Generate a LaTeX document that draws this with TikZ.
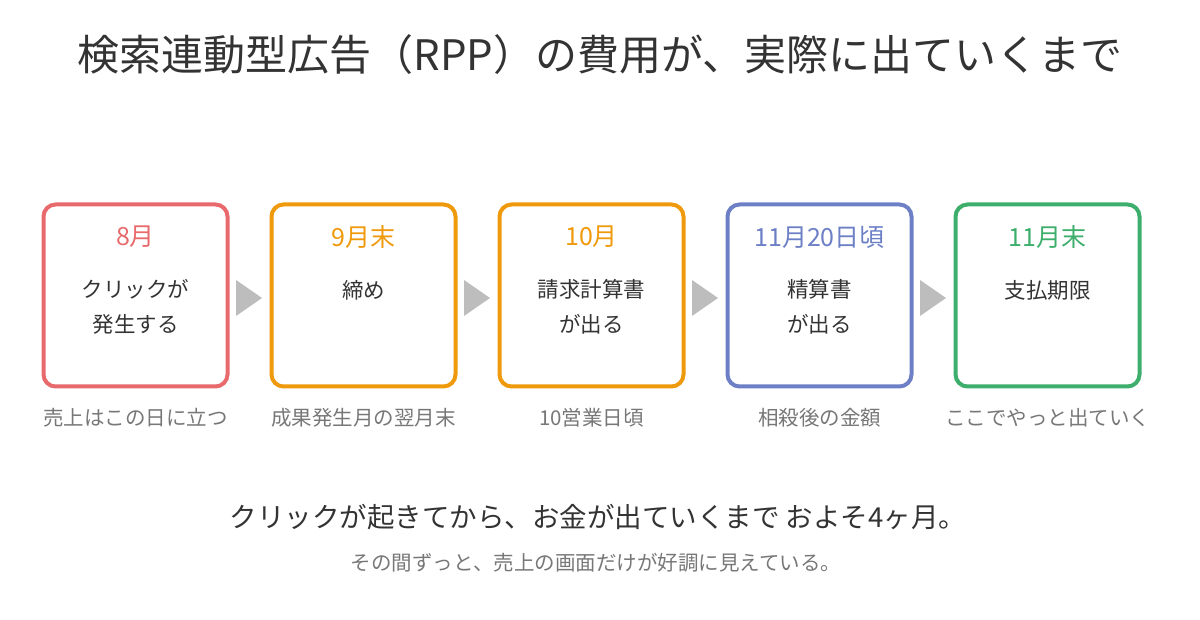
\documentclass[tikz,border=0pt]{standalone}
\usetikzlibrary{calc}
\usepackage{fontspec}
\setmainfont{Noto Sans CJK JP}
\definecolor{cr}{HTML}{E86A6C}
\definecolor{co}{HTML}{EF9A0C}
\definecolor{cb}{HTML}{6D80C6}
\definecolor{cg}{HTML}{3DAE6B}
\definecolor{tx}{HTML}{333333}
\definecolor{gy}{HTML}{777777}
\definecolor{ar}{HTML}{BDBDBD}
\begin{document}
\begin{tikzpicture}[x=1pt,y=-1pt,
 box/.style={draw=#1,line width=4pt,rounded corners=12pt,minimum width=184pt,minimum height=182pt},
 date/.style={text=#1,font=\fontsize{25}{28}\selectfont},
 body/.style={text=tx,font=\fontsize{21.5}{35}\selectfont,align=center},
 sub/.style={text=gy,font=\fontsize{20.5}{24}\selectfont},
 tri/.style={fill=ar}]
\useasboundingbox (0,0) rectangle (1200,620);
\node[text=tx,font=\fontsize{42}{46}\selectfont] (title) at (600,55) {検索連動型広告（RPP）の費用が、実際に出ていくまで};
\foreach \i/\c/\d/\b/\s in {0/cr/8月/{クリックが\\発生する}/売上はこの日に立つ,
 1/co/9月末/{締め\\\phantom{x}}/成果発生月の翌月末,
 2/co/10月/{請求計算書\\が出る}/10営業日頃,
 3/cb/11月20日頃/{精算書\\が出る}/相殺後の金額,
 4/cg/11月末/{支払期限\\\phantom{x}}/ここでやっと出ていく}{
 \node[box=\c] (b\i) at (135.5+228*\i,295.5) {};
 \node[date=\c] (d\i) at (135.5+228*\i,237) {\d};
 \node[body] (t\i) at (135.5+228*\i,307) {\b};
 \node[sub] (s\i) at (135.5+228*\i,418) {\s};
}
\foreach \i in {0,1,2,3}{
 \coordinate (a\i) at (249+228*\i,298);
 \fill[tri] ($(a\i)+(-13,-18)$) -- ($(a\i)+(13,0)$) -- ($(a\i)+(-13,18)$) -- cycle;
}
\node[text=tx,font=\fontsize{27.5}{30}\selectfont] (m1) at (598,517) {クリックが起きてから、お金が出ていくまで およそ4ヶ月。};
\node[sub,font=\fontsize{20.5}{24}\selectfont] (m2) at (596,563) {その間ずっと、売上の画面だけが好調に見えている。};
\end{tikzpicture}
\end{document}
